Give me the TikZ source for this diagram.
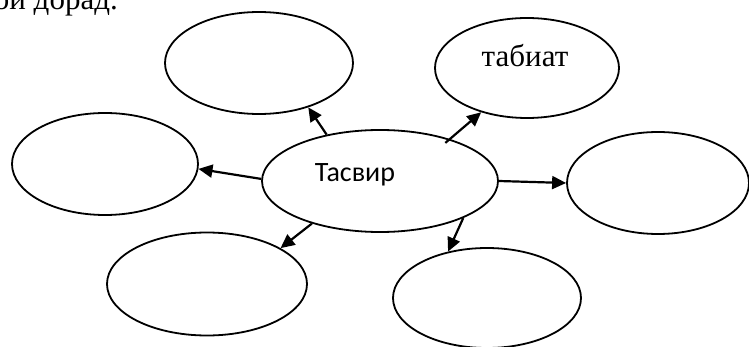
\documentclass[tikz,border=0pt]{standalone}
\usepackage{fontspec}
\setmainfont{Liberation Serif}
\newfontfamily\calib{Carlito}
\usetikzlibrary{shapes.geometric,arrows.meta}
\begin{document}
\begin{tikzpicture}[x=1pt,y=-1pt,
  bub/.style={ellipse,draw,line width=1.8pt,inner sep=0pt},
  arr/.style={line width=2.2pt,-{Triangle[length=14pt,width=13pt]}},
  lbl/.style={inner sep=0pt,anchor=base}]
\useasboundingbox (0,0) rectangle (749,347);
% top cut text
\node[inner sep=0pt,anchor=base east,font=\fontsize{31}{36}\selectfont] (top) at (118,10) {ои дорад.};
% ellipses
\node[bub,minimum width=236pt,minimum height=102pt] (E0) at (380,181) {};
\node[bub,minimum width=188pt,minimum height=102pt] (E1) at (259,63) {};
\node[bub,minimum width=184pt,minimum height=100pt] (E2) at (527,68) {};
\node[bub,minimum width=186pt,minimum height=102pt] (E3) at (105,164) {};
\node[bub,minimum width=200pt,minimum height=103pt] (E4) at (207,284) {};
\node[bub,minimum width=188pt,minimum height=100pt] (E5) at (487,298) {};
\node[bub,minimum width=182pt,minimum height=102pt] (E6) at (658,183) {};
% texts
\node[lbl,font=\calib\fontsize{28}{34}\selectfont] (t0) at (355,182) {Тасвир};
\node[lbl,font=\fontsize{31}{36}\selectfont] (t2) at (525,67) {табиат};
% arrows
\draw[arr] (E0.139.8) -- (E1.-42.5);
\draw[arr,shorten <=-6pt] (E0.31.9) -- (E2.224.4);
\draw[arr] (E0.179.5) -- (E3.-3);
\draw[arr] (E0.0) -- (E6.180);
\draw[arr] (E0.212.7) -- (E4.26);
\draw[arr] (E0.-24) -- (E5.130.7);
\end{tikzpicture}
\end{document}
